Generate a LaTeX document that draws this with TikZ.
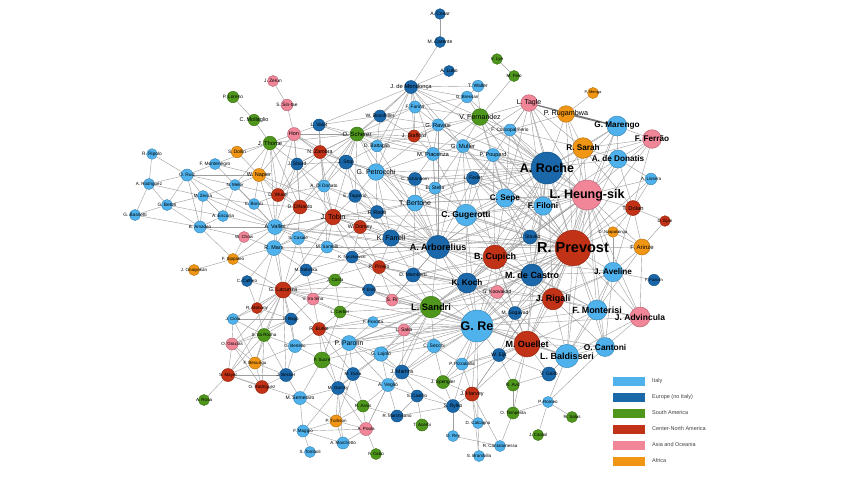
\documentclass[tikz,border=0pt]{standalone}
\usepackage{fontspec}
\setmainfont{Liberation Sans}
\definecolor{cIT}{RGB}{80,178,236}
\definecolor{cEU}{RGB}{26,104,170}
\definecolor{cSA}{RGB}{78,150,28}
\definecolor{cNA}{RGB}{194,50,22}
\definecolor{cAS}{RGB}{240,134,152}
\definecolor{cAF}{RGB}{240,150,20}
\pgfdeclarelayer{bg}
\pgfdeclarelayer{edges}
\pgfdeclarelayer{labels}
\pgfsetlayers{bg,edges,main,labels}
\tikzset{
  vtx/.style={circle, inner sep=0pt, line width=0.5pt},
  lbl/.style={inner sep=0pt, text=black},
  edge/.style={draw=black!38, line width=0.4pt},
  heavy/.style={draw=black!55, line width=1.1pt},
  legbox/.style={minimum width=32pt, minimum height=9pt, inner sep=0pt},
  legtxt/.style={anchor=west, inner sep=0pt, text=black!75, font=\fontsize{5.5}{6}\selectfont}
}
\newcommand\vx[7]{%
  \node[vtx, fill=#5, draw=#5!78!black, minimum size=#4*2pt] (#1) at (#2,#3) {};
  \begin{pgfonlayer}{labels}
  \node[lbl, font={\fontsize{#7}{#7}\selectfont\ifdim #7pt>7.9pt\relax\bfseries\fi}] (#1-t) at (#2,#3) {#6};
  \end{pgfonlayer}}
\begin{document}
\begin{tikzpicture}[x=1pt,y=-1pt]
\useasboundingbox (0,0) rectangle (850,480);
\begin{pgfonlayer}{bg}
\fill[white] (0,0) rectangle (850,480);
\end{pgfonlayer}
% top / right
\vx{cesar}{440}{14}{5.3}{cEU}{A. Cesar}{5}
\vx{carente}{440}{42}{5.5}{cEU}{M. Carente}{5}
\vx{lutto}{449}{71}{5.5}{cEU}{A. Lutto}{5}
\vx{mendonca}{411}{87}{6.5}{cEU}{J. de Mendonça}{5.8}
\vx{walter}{478}{86}{5.7}{cIT}{T. Walter}{5}
\vx{bressan}{467}{97}{5.7}{cIT}{G. Bressan}{4.5}
\vx{lye}{497}{59}{5.3}{cSA}{V. Lye}{4.5}
\vx{felo}{514}{76}{5.5}{cSA}{M. Felo}{4.5}
\vx{farina}{415}{107}{6}{cIT}{F. Farina}{4.8}
\vx{fernandez}{480}{117}{8.3}{cSA}{V. Fernandez}{7}
\vx{bosshiller}{380}{116}{6}{cEU}{W. Bosshiller}{5}
\vx{valot}{319}{125}{6}{cEU}{L. Valot}{5}
\vx{ravasi}{438}{125}{6}{cIT}{G. Ravasi}{5.8}
\vx{scherer}{357}{134}{7}{cSA}{O. Scherer}{6}
\vx{stafford}{414}{136}{6}{cNA}{J. Stafford}{5.3}
\vx{battaglia}{377}{146}{5.8}{cIT}{D. Battaglia}{5}
\vx{muller}{463}{146}{6.5}{cIT}{G. Muller}{6}
\vx{cocco}{510}{130}{6}{cIT}{F. Coccopalmerio}{4.8}
\vx{zambra}{320}{152}{6.5}{cNA}{N. Zambra}{5.3}
\vx{piacenza}{433}{154}{6.5}{cIT}{M. Piacenza}{5.8}
\vx{poupard}{493}{155}{6.5}{cIT}{P. Poupard}{5.5}
\vx{stop}{346}{162}{7}{cEU}{J. Stop}{5}
\vx{sbard}{297}{164}{6}{cEU}{J. Sbard}{5}
\vx{menga}{593}{93}{5.5}{cAF}{P. Menga}{4}
\vx{tagle}{529}{103}{8.3}{cAS}{L. Tagle}{7}
\vx{rugambwa}{566}{114}{8.3}{cAF}{P. Rugambwa}{7.2}
\vx{marengo}{617}{126}{10}{cIT}{G. Marengo}{8.2}
\vx{ferrao}{652}{139}{9.3}{cAS}{F. Ferrão}{8.2}
\vx{sarah}{583}{148}{10.3}{cAF}{R. Sarah}{8.2}
\vx{donatis}{618}{159}{9}{cIT}{A. de Donatis}{8.2}
\vx{roche}{547}{168}{16}{cEU}{A. Roche}{12.5}
\vx{lissera}{651}{179}{5.8}{cIT}{A. Lissera}{4.5}
\vx{heung}{587}{195}{15}{cAS}{L. Heung-sik}{12.5}
\vx{dolan}{633}{208}{7.5}{cNA}{T. Dolan}{5.8}
\vx{filoni}{543}{206}{9.2}{cIT}{F. Filoni}{8.2}
\vx{sepe}{505}{198}{9.2}{cIT}{C. Sepe}{8.2}
\vx{ejan}{665}{221}{5.3}{cNA}{D. Ejan}{4.5}
\vx{nzapa}{613}{232}{5.3}{cAF}{D. Nzapalainga}{4.2}
\vx{stavko}{530}{237}{7}{cEU}{J. Stavko}{5}
\vx{prevost}{573}{248}{17.8}{cNA}{R. Prevost}{14.5}
\vx{arinze}{642}{247}{8}{cAF}{F. Arinze}{6}
\vx{aveline}{613}{272}{9.7}{cIT}{J. Aveline}{8.2}
\vx{decastro}{532}{275}{11}{cEU}{M. de Castro}{9}
\vx{fazolin}{654}{280}{5.7}{cEU}{F. Fazolin}{4.2}
\vx{rigali}{553}{299}{10.8}{cNA}{J. Rigali}{9}
\vx{monterisi}{597}{310}{10}{cIT}{F. Monterisi}{9}
\vx{advincula}{640}{317}{10}{cAS}{J. Advincula}{8.5}
\vx{koovakad}{497}{292}{6.5}{cAS}{G. Koovakad}{5}
\vx{sogavad}{515}{313}{6.5}{cEU}{M. Sogavad}{5}
\vx{ouellet}{527}{344}{13}{cNA}{M. Ouellet}{9}
\vx{baldisseri}{567}{356}{11.7}{cIT}{L. Baldisseri}{9}
\vx{cantoni}{605}{347}{9.5}{cIT}{O. Cantoni}{8.4}
\vx{eijk}{499}{355}{6.5}{cEU}{W. Eijk}{5}
\vx{gallo}{549}{374}{7}{cEU}{V. Gallo}{5}
\vx{rgreen}{513}{385}{6}{cSA}{R. Aviz}{4.5}
\vx{romeo}{548}{402}{5.5}{cIT}{P. Romeo}{4.5}
\vx{tempesta}{513}{413}{6}{cSA}{O. Tempesta}{4.5}
\vx{salas}{572}{417}{5.5}{cSA}{R. Salas}{4.5}
\vx{cardal}{538}{435}{5.5}{cSA}{J. Cardal}{4.5}
\vx{cantalamessa}{500}{446}{5.5}{cIT}{R. Cantalamessa}{4.5}
% middle
\vx{petrocchi}{376}{172}{8.3}{cIT}{G. Petrocchi}{7}
\vx{schonborn}{415}{179}{6.5}{cEU}{C. Schönborn}{4.5}
\vx{stella}{435}{188}{6}{cIT}{B. Stella}{5}
\vx{feder}{473}{178}{6.5}{cEU}{L. Feder}{5}
\vx{didonato}{324}{186}{6}{cIT}{A. Di Donato}{4.8}
\vx{tocarrio}{355}{196}{6.3}{cEU}{E. Tagarrio}{4.8}
\vx{wuerl}{278}{195}{6.5}{cNA}{D. Wuerl}{5}
\vx{dinardo}{300}{207}{7}{cNA}{D. DiNardo}{5}
\vx{bertone}{415}{203}{8}{cIT}{T. Bertone}{7}
\vx{gugerotti}{466}{215}{10.8}{cIT}{C. Gugerotti}{8.5}
\vx{tobin}{333}{217}{7.8}{cNA}{J. Tobin}{7.2}
\vx{rode}{377}{212}{6.5}{cEU}{F. Rodé}{5.5}
\vx{dorsey}{360}{227}{6.5}{cNA}{W. Dorsey}{5.3}
\vx{farrell}{391}{238}{8.2}{cEU}{K. Farrell}{7}
\vx{arborelius}{438}{247}{11.7}{cEU}{A. Arborelius}{9}
\vx{cupich}{495}{257}{12}{cNA}{B. Cupich}{9}
\vx{santelli}{327}{247}{6}{cIT}{M. Santelli}{4.8}
\vx{nycz}{352}{257}{6}{cEU}{K. Nyczkowski}{4.2}
\vx{prosio}{379}{267}{6.5}{cNA}{R. Prosio}{5}
\vx{sobrska}{306}{270}{6}{cEU}{M. Sobrska}{4.5}
\vx{mamberti}{413}{275}{7}{cEU}{D. Mamberti}{5}
\vx{koch}{467}{283}{10}{cEU}{K. Koch}{8.2}
\vx{costa}{335}{280}{6}{cSA}{J. Costa}{4.5}
\vx{erdo}{369}{290}{6}{cEU}{P. Erdő}{4.5}
\vx{irasina}{313}{299}{6}{cAS}{V. Ira Sina}{4.5}
\vx{sri}{392}{300}{6}{cAS}{S. Ri}{5}
\vx{sandri}{431}{307}{10.8}{cSA}{L. Sandri}{9.3}
\vx{cerber}{340}{312}{6}{cSA}{L. Cerber}{4.5}
\vx{re}{477}{326}{16}{cIT}{G. Re}{12.5}
% left
\vx{zerun}{273}{81}{5.5}{cAS}{J. Zerun}{4.8}
\vx{sintae}{287}{105}{5.8}{cAS}{S. Sin-tae}{4.8}
\vx{hon}{294}{134}{6.5}{cAS}{Hon}{5.5}
\vx{loreno}{233}{97}{5.7}{cSA}{P. Loreno}{4.8}
\vx{mollaglio}{254}{120}{5.7}{cSA}{C. Mollaglio}{5.5}
\vx{thome}{270}{143}{6.8}{cSA}{J. Thome}{5.8}
\vx{dollin}{237}{152}{5.7}{cAF}{S. Dollin}{4.8}
\vx{ripolo}{152}{154}{5.3}{cIT}{R. Ripolo}{4.8}
\vx{montenegro}{215}{164}{5.5}{cIT}{F. Montenegro}{4.8}
\vx{ruiz}{187}{175}{6}{cIT}{O. Ruiz}{4.8}
\vx{napier}{259}{175}{6.5}{cAF}{W. Napier}{5.5}
\vx{rodriguez}{149}{184}{5.5}{cIT}{A. Rodriguez}{4.5}
\vx{melor}{235}{185}{5.5}{cIT}{N. Melor}{4.5}
\vx{zecca}{203}{196}{5.5}{cIT}{M. Zecca}{4.5}
\vx{betori}{167}{205}{5.5}{cIT}{G. Betori}{4.8}
\vx{bonisi}{254}{204}{5.5}{cIT}{E. Bonisi}{4.5}
\vx{bassetti}{135}{215}{5.5}{cIT}{G. Bassetti}{4.8}
\vx{escuria}{223}{216}{5.5}{cIT}{A. Escuria}{4.8}
\vx{amadeo}{200}{227}{6}{cIT}{B. Amadeo}{4.5}
\vx{vallini}{275}{227}{7.5}{cIT}{A. Vallini}{5.5}
\vx{chow}{244}{237}{5.5}{cAS}{W. Chow}{4.5}
\vx{casale}{298}{238}{6.5}{cIT}{S. Casale}{4.5}
\vx{marx}{274}{248}{7.5}{cIT}{R. Marx}{5.5}
\vx{sippaleo}{233}{259}{5.5}{cAF}{F. Sippaleo}{4.5}
\vx{onaiyekan}{194}{270}{5.5}{cAF}{J. Onaiyekan}{4.5}
\vx{caffero}{247}{281}{5.5}{cEU}{C. Caffero}{4.5}
\vx{lacunza}{283}{290}{8}{cNA}{G. Lacunza}{5.5}
\vx{mahony}{257}{308}{5.5}{cNA}{R. Mahony}{4.5}
\vx{ciola}{233}{319}{5.5}{cIT}{J. Ciola}{4.5}
\vx{fbago}{291}{319}{6}{cEU}{F. Bago}{4.5}
\vx{rocha}{264}{335}{6.5}{cSA}{S. da Rocha}{4.5}
\vx{gracias}{232}{344}{6}{cAS}{O. Gracias}{4.5}
\vx{bertello}{295}{346}{6.5}{cIT}{G. Bertello}{4.5}
\vx{besungu}{255}{363}{6}{cAF}{F. Besungu}{4.5}
\vx{mayer}{228}{375}{6.5}{cNA}{S. Mayer}{4.5}
\vx{becker}{286}{375}{6.5}{cEU}{J. Becker}{4.5}
\vx{rodriguezm}{262}{387}{6.5}{cNA}{O. Rodríguez}{4.5}
\vx{arosa}{204}{400}{5.5}{cSA}{A. Rosa}{4.5}
\vx{semeraro}{300}{398}{6.5}{cIT}{M. Semeraro}{5}
\vx{maggio}{303}{431}{6}{cIT}{F. Maggio}{4.5}
\vx{tomboli}{310}{452}{5.5}{cIT}{S. Tomboli}{4.5}
% bottom centre
\vx{burke}{319}{329}{6.5}{cNA}{R. Burke}{5}
\vx{fiorotta}{373}{322}{5.5}{cIT}{F. Fiorotta}{4.5}
\vx{sako}{404}{330}{6}{cAS}{L. Sako}{5}
\vx{parolin}{349}{343}{7.5}{cIT}{P. Parolin}{6.8}
\vx{secchi}{434}{346}{6.7}{cIT}{C. Secchi}{5}
\vx{sucre}{322}{360}{8}{cSA}{F. Sucre}{4.5}
\vx{lajolo}{381}{354}{7.2}{cIT}{G. Lajolo}{5}
\vx{pizzaballa}{462}{364}{6}{cIT}{P. Pizzaballa}{4.5}
\vx{duka}{353}{374}{6.5}{cEU}{M. Duka}{4.5}
\vx{martins}{402}{372}{7}{cEU}{J. Martins}{5.3}
\vx{spengler}{443}{382}{6.5}{cSA}{J. Spengler}{4.8}
\vx{gorsky}{338}{388}{6.5}{cEU}{M. Gorsky}{4.5}
\vx{veglio}{388}{385}{6.5}{cIT}{A. Vegliò}{5}
\vx{harvey}{472}{394}{7}{cNA}{J. Harvey}{5.5}
\vx{castillo}{417}{396}{6}{cEU}{S. Castillo}{4.5}
\vx{rylko}{453}{406}{6.5}{cEU}{S. Rylko}{5}
\vx{assis}{363}{406}{6}{cSA}{R. Assis}{4.5}
\vx{marchisano}{397}{416}{6}{cEU}{R. Marchisano}{4.5}
\vx{turkson}{336}{421}{6}{cAF}{P. Turkson}{4.5}
\vx{poola}{366}{429}{6.5}{cAS}{A. Poola}{4.5}
\vx{acerbi}{422}{425}{6}{cSA}{T. Acerbi}{4.5}
\vx{calcagno}{478}{423}{5.5}{cIT}{D. Calcagno}{4.5}
\vx{orey}{453}{436}{5.5}{cIT}{O. Rey}{4.5}
\vx{marchetto}{343}{443}{6}{cIT}{A. Marchetto}{4.5}
\vx{cabo}{376}{454}{5.5}{cSA}{F. Cabo}{4.5}
\vx{brambo}{479}{456}{5.5}{cIT}{S. Brambilla}{4.5}
% edges
\begin{pgfonlayer}{edges}
\foreach \a/\L in {
prevost/{heung,roche,filoni,sepe,stavko,decastro,rigali,aveline,monterisi,advincula,arinze,nzapa,dolan,cupich,koch,arborelius,gugerotti,re,ouellet,baldisseri,cantoni,sarah,marengo,donatis,tagle,rugambwa,ferrao,sandri,koovakad,sogavad,bertone,feder,poupard,muller,fernandez,lajolo,vallini,tobin,parolin,harvey,eijk,pizzaballa,farrell,mamberti,petrocchi,ravasi,lissera},
heung/{roche,filoni,sepe,sarah,marengo,donatis,ferrao,dolan,arinze,nzapa,aveline,decastro,cupich,rigali,monterisi,advincula,tagle,rugambwa,gugerotti,arborelius,re,koch,cantoni,baldisseri,ouellet,lissera,fernandez,cocco,poupard,feder,stavko,bertone,sandri},
roche/{filoni,sepe,sarah,marengo,donatis,tagle,rugambwa,cocco,poupard,fernandez,muller,feder,gugerotti,arborelius,decastro,cupich,stavko,ravasi,piacenza,bertone,stella,schonborn,re,koch,ouellet,petrocchi,ferrao,rigali,mendonca,bressan},
re/{sandri,koch,koovakad,sogavad,eijk,ouellet,baldisseri,cantoni,monterisi,rigali,decastro,cupich,arborelius,mamberti,secchi,sako,pizzaballa,harvey,spengler,rylko,martins,lajolo,parolin,gugerotti,aveline,advincula,calcagno,veglio,sri,erdo,fiorotta,burke,bertello,sucre,lacunza},
arborelius/{cupich,gugerotti,bertone,farrell,koch,sandri,mamberti,decastro,stella,feder,schonborn,rode,dorsey,tobin,petrocchi,sepe,filoni,stavko,rigali,ouellet,prosio,nycz,sri,ravasi,muller,piacenza,battaglia,vallini,marx,santelli,lacunza,hon,scherer,napier},
cupich/{gugerotti,sepe,filoni,stavko,decastro,koch,koovakad,rigali,sandri,mamberti,monterisi,ouellet,feder,poupard,sogavad,aveline,vallini},
sandri/{koch,mamberti,sri,erdo,prosio,secchi,sako,fiorotta,parolin,lajolo,koovakad,ouellet,baldisseri,decastro,rigali,cerber,costa,burke,nycz,martins,veglio,lacunza},
gugerotti/{sepe,bertone,feder,stella,poupard,muller,filoni,stavko,koch,decastro,farrell,piacenza,tobin},
ouellet/{baldisseri,rigali,decastro,eijk,sogavad,gallo,rgreen,cantoni,monterisi,koch,pizzaballa,harvey,tempesta,spengler},
baldisseri/{cantoni,monterisi,rigali,gallo,advincula,aveline,sogavad,romeo},
cantoni/{monterisi,advincula,aveline,romeo,rigali},
decastro/{rigali,koch,koovakad,sogavad,stavko,filoni,sepe,monterisi,aveline},
rigali/{monterisi,koch,sogavad,koovakad,aveline,advincula},
monterisi/{advincula,aveline,arinze},
aveline/{arinze,fazolin,advincula,nzapa,dolan},
koch/{koovakad,sogavad,mamberti,stavko,farrell,prosio,sri,vallini,marx,lacunza},
filoni/{sepe,stavko,sarah,donatis,marengo,feder,poupard,cocco,tagle},
sepe/{poupard,cocco,tagle,muller,feder,fernandez,stavko,bertone},
sarah/{marengo,donatis,rugambwa,tagle,ferrao,dolan,cocco},
marengo/{ferrao,donatis},
donatis/{ferrao,lissera,dolan},
dolan/{arinze,nzapa,ejan,ferrao,lissera},
arinze/{ejan,nzapa,advincula},
tagle/{rugambwa,cocco,fernandez,poupard,muller},
rugambwa/{menga,cocco},
fernandez/{walter,bressan,felo,mendonca,ravasi,muller,cocco,poupard,farina,stafford,piacenza},
mendonca/{farina,bosshiller,bressan,walter,scherer,ravasi,stafford,muller,valot,piacenza,battaglia,petrocchi,lutto,carente},
carente/{cesar}, lye/{felo}, bressan/{walter,ravasi,farina},
scherer/{valot,bosshiller,farina,battaglia,stafford,zambra,hon,thome,stop,sbard,petrocchi,ravasi,didonato,tocarrio,tobin,piacenza,muller,wuerl,dinardo,roche},
hon/{sintae,thome,zambra,valot,sbard,wuerl,dinardo,napier,stop},
sintae/{zerun},
thome/{mollaglio,zambra,napier,wuerl,sbard,dinardo,dollin,montenegro,melor,vallini},
mollaglio/{loreno},
napier/{melor,wuerl,ruiz,dinardo,vallini,bonisi,dollin},
zambra/{sbard,stop,didonato,wuerl,valot,petrocchi,tobin},
stop/{petrocchi,didonato,tocarrio,sbard,battaglia,schonborn,rode},
sbard/{didonato,wuerl,dinardo,vallini,tobin},
petrocchi/{schonborn,stella,bertone,battaglia,tocarrio,rode,farrell,piacenza,ravasi},
piacenza/{ravasi,stafford,muller,battaglia,schonborn,stella},
muller/{ravasi,poupard,stella,feder,cocco},
stafford/{ravasi,farina,battaglia,bosshiller},
feder/{poupard,stella,bertone,schonborn},
bertone/{stella,schonborn,farrell,rode,tocarrio,mamberti,vallini},
didonato/{tocarrio,tobin,dinardo,wuerl,rode,santelli},
tocarrio/{rode,tobin,dorsey,farrell},
tobin/{dorsey,rode,dinardo,farrell,santelli,nycz,casale,vallini,marx,lacunza,prosio},
dorsey/{farrell,rode,nycz,prosio,santelli},
farrell/{rode,mamberti,prosio,nycz},
wuerl/{dinardo,vallini,melor,bonisi},
dinardo/{vallini,casale,marx,bonisi},
vallini/{marx,casale,chow,escuria,bonisi,melor,amadeo,ruiz,zecca,lacunza,sippaleo},
marx/{casale,chow,lacunza,sippaleo,caffero,mahony,sobrska,santelli},
casale/{santelli,sobrska,lacunza},
ruiz/{ripolo,rodriguez,zecca,betori,montenegro,melor,amadeo},
rodriguez/{betori,bassetti,zecca,ripolo},
betori/{bassetti,zecca,amadeo,escuria},
zecca/{melor,amadeo,escuria,bonisi},
melor/{bonisi,escuria,montenegro},
amadeo/{escuria,chow,sippaleo,bassetti},
montenegro/{napier},
sippaleo/{onaiyekan,chow,lacunza},
lacunza/{caffero,mahony,ciola,fbago,sobrska,costa,irasina,rocha,bertello,gracias,besungu,mayer,becker,burke,cerber},
mahony/{ciola,caffero,fbago,rocha},
ciola/{gracias,rocha,besungu,fbago},
fbago/{rocha,bertello,irasina,gracias},
rocha/{gracias,bertello,besungu,becker,mayer,rodriguezm},
gracias/{besungu,mayer,rodriguezm},
besungu/{mayer,rodriguezm,becker,bertello},
mayer/{arosa,rodriguezm,becker,semeraro},
becker/{rodriguezm,bertello,semeraro,sucre},
bertello/{sucre,burke},
sobrska/{irasina,costa,santelli,nycz},
irasina/{costa,cerber,burke},
costa/{nycz,erdo,cerber},
nycz/{santelli,prosio,erdo},
erdo/{prosio,sri,cerber},
prosio/{mamberti,sri},
mamberti/{sri},
cerber/{burke,sucre,fiorotta},
burke/{sucre,parolin,fiorotta,gorsky,duka},
sucre/{parolin,semeraro,gorsky,duka},
parolin/{fiorotta,sako,lajolo,duka,gorsky,martins,veglio},
sako/{fiorotta,secchi,lajolo,martins},
secchi/{lajolo,pizzaballa,spengler,martins},
lajolo/{duka,martins,veglio,gorsky},
pizzaballa/{spengler,harvey,eijk},
duka/{gorsky,veglio,assis,turkson},
gorsky/{semeraro,turkson,assis,marchetto,poola,maggio},
semeraro/{maggio,turkson},
maggio/{tomboli,turkson,marchetto,poola},
turkson/{poola,marchetto,assis},
poola/{assis,marchetto,cabo,veglio},
veglio/{assis,martins,castillo,marchisano,poola},
martins/{castillo,spengler,rylko},
castillo/{acerbi,marchisano,rylko},
marchisano/{assis,rylko},
spengler/{harvey,rylko},
harvey/{rylko,calcagno,cantalamessa,eijk,brambo},
rylko/{orey,calcagno},
calcagno/{brambo},
orey/{cantalamessa},
eijk/{sogavad,rgreen,gallo},
rgreen/{tempesta,gallo},
tempesta/{romeo,cantalamessa},
romeo/{salas,cardal},
koovakad/{sogavad,mamberti},
stavko/{feder},
ravasi/{farina,bosshiller},
bosshiller/{farina,valot,battaglia},
valot/{battaglia,didonato}}{\foreach \b in \L {\draw[edge] (\a) -- (\b);}}
\draw[heavy] (tagle) -- (marengo);
\draw[heavy] (rugambwa) -- (marengo);
\end{pgfonlayer}
% legend
\foreach \i/\c/\t in {1/cIT/Italy, 2/cEU/Europe (no Italy), 3/cSA/South America, 4/cNA/Center-North America, 5/cAS/Asia and Oceania, 6/cAF/Africa}{
  \node[legbox, fill=\c] (leg\i) at (629,{381+16*(\i-1)}) {};
  \node[legtxt] (legt\i) at (652,{381+16*(\i-1)}) {\t};
}
\end{tikzpicture}
\end{document}
